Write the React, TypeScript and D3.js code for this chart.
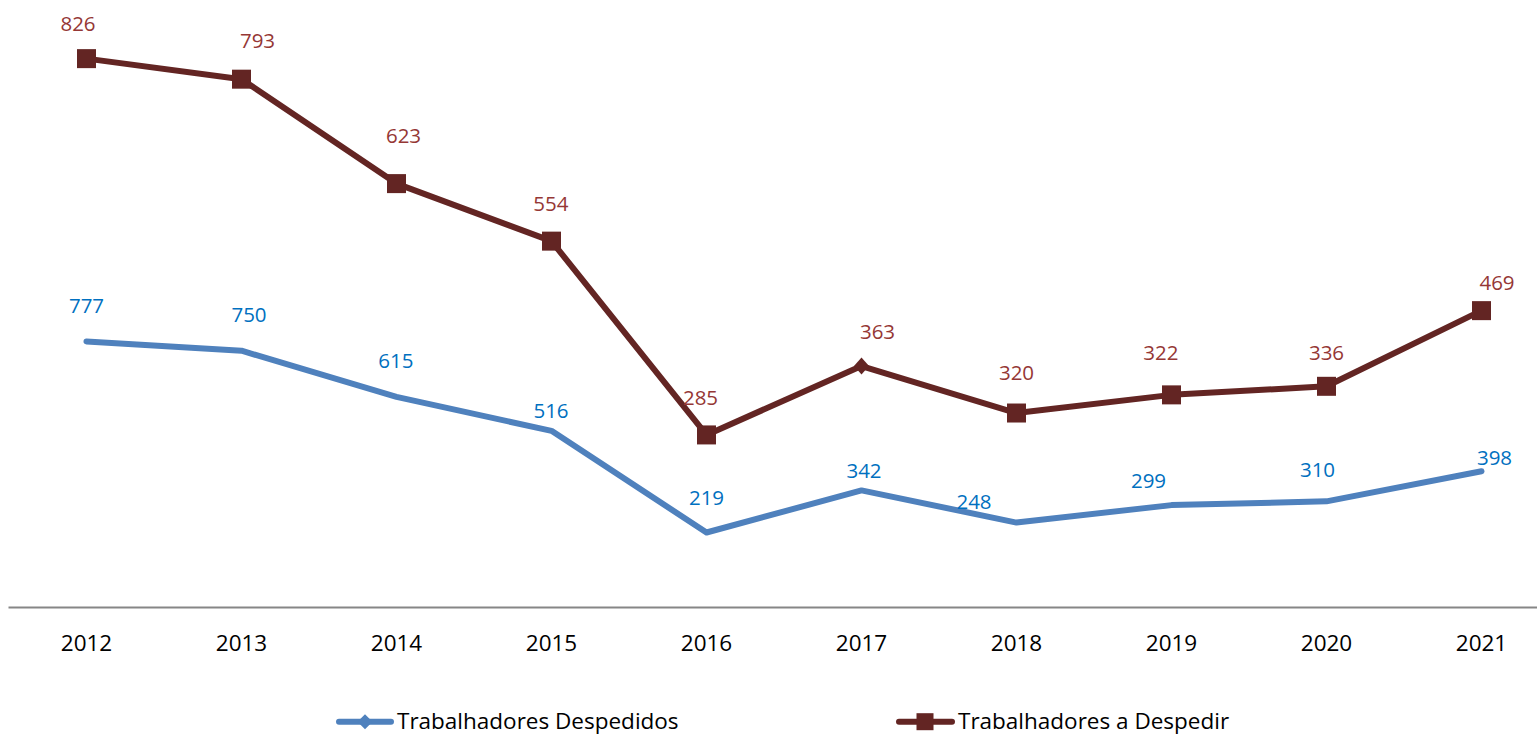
import React from "react";
import * as d3 from "d3";

const years = ["2012", "2013", "2014", "2015", "2016", "2017", "2018", "2019", "2020", "2021"];
const despedidos = [777, 750, 615, 516, 219, 342, 248, 299, 310, 398];
const aDespedir = [826, 793, 623, 554, 285, 363, 320, 322, 336, 469];
const aDespedirMarkers = ["square", "square", "square", "square", "square", "diamond", "square", "square", "square", "square"];
const seriesNames = ["Trabalhadores Despedidos", "Trabalhadores a Despedir"];

// label offsets (label centre relative to point), px
const blueLabelDx = [0, 7.5, -0.7, -0.5, 0, 2.5, -42.5, -23, -9, 13];
const blueLabelDy = [-36, -35.7, -36, -20, -35, -19.5, -21, -24, -31.5, -14];
const brownLabelDx = [-8.5, 16, 7, -0.7, -6, 16, 0, -10.7, 0, 15.5];
const brownLabelDy = [-34.5, -38, -47.5, -37.5, -37, -34, -40, -42.5, -33.5, -28];

const W = 1537;
const H = 737;
const FONT = "'Open Sans', 'Liberation Sans', Arial, sans-serif";
const BLUE = "#4F81BD";
const BLUE_TXT = "#0070C0";
const BROWN = "#632523";
const BROWN_TXT = "#953735";

export default function App() {
  const x = d3.scalePoint<string>().domain(years).range([86.5, 1481.5]).padding(0);
  const y = d3.scaleLinear().domain([0, 1800]).range([607.5, 607.5 - 1800 * 0.3424]);

  const stacked = d3.stack<number>().keys(["a", "b"]).value((i, k) => (k === "a" ? despedidos[i] : aDespedir[i]))(
    years.map((_, i) => i)
  );
  const blueTop = stacked[0].map((s) => s[1]);
  const brownTop = stacked[1].map((s) => s[1]);

  const line = d3
    .line<number>()
    .x((_, i) => x(years[i]) as number)
    .y((d) => y(d));

  const sq = 19;
  const diamond = (cx: number, cy: number, w: number, h: number) =>
    `M${cx},${cy - h / 2}L${cx + w / 2},${cy}L${cx},${cy + h / 2}L${cx - w / 2},${cy}Z`;

  const labelSize = 20.5;
  const half = labelSize * 0.357;

  return (
    <svg width={W} height={H} style={{ position: "absolute", left: 0, top: 0, background: "#fff" }} fontFamily={FONT}>
      {/* axis line */}
      <line x1={8.5} x2={W} y1={607.5} y2={607.5} stroke="#868686" strokeWidth={2} />
      {years.map((yr) => (
        <text key={yr} x={x(yr)} y={651} textAnchor="middle" fontSize={22.5} fill="#000">
          {yr}
        </text>
      ))}

      {/* blue series */}
      <path d={line(blueTop) || ""} fill="none" stroke={BLUE} strokeWidth={6} strokeLinejoin="round" strokeLinecap="round" />
      {/* brown series */}
      <path d={line(brownTop) || ""} fill="none" stroke={BROWN} strokeWidth={6} strokeLinejoin="round" />
      {brownTop.map((v, i) => {
        const cx = x(years[i]) as number;
        const cy = y(v);
        return aDespedirMarkers[i] === "square" ? (
          <rect key={i} x={cx - sq / 2} y={cy - sq / 2} width={sq} height={sq} fill={BROWN} />
        ) : (
          <path key={i} d={diamond(cx, cy, 15, 17)} fill={BROWN} />
        );
      })}

      {/* labels */}
      {despedidos.map((v, i) => (
        <text
          key={"b" + i}
          x={(x(years[i]) as number) + blueLabelDx[i]}
          y={y(blueTop[i]) + blueLabelDy[i] + half}
          textAnchor="middle"
          fontSize={labelSize}
          fill={BLUE_TXT}
        >
          {v}
        </text>
      ))}
      {aDespedir.map((v, i) => (
        <text
          key={"r" + i}
          x={(x(years[i]) as number) + brownLabelDx[i]}
          y={y(brownTop[i]) + brownLabelDy[i] + half}
          textAnchor="middle"
          fontSize={labelSize}
          fill={BROWN_TXT}
        >
          {v}
        </text>
      ))}

      {/* legend */}
      <g>
        <line x1={339} x2={391} y1={721.7} y2={721.7} stroke={BLUE} strokeWidth={6} strokeLinecap="round" />
        <path d={diamond(365, 721.7, 15, 15)} fill={BLUE} />
        <text x={397} y={728.5} fontSize={22.5} fill="#000">
          {seriesNames[0]}
        </text>
        <line x1={899} x2={952} y1={721.7} y2={721.7} stroke={BROWN} strokeWidth={6} strokeLinecap="round" />
        <rect x={925 - 8.5} y={721.7 - 8.5} width={17} height={17} fill={BROWN} />
        <text x={958} y={728.5} fontSize={22.5} fill="#000">
          {seriesNames[1]}
        </text>
      </g>
    </svg>
  );
}
